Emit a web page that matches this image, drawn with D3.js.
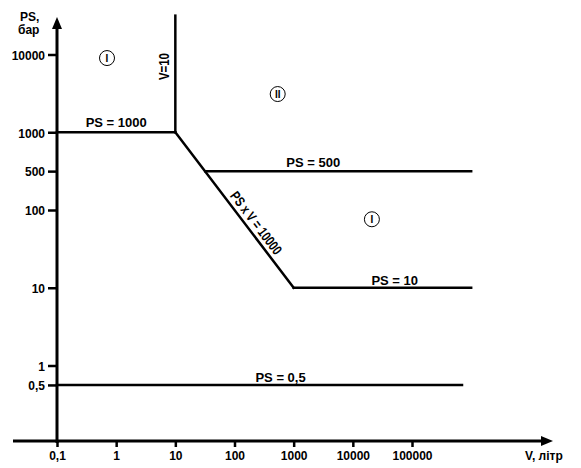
<!DOCTYPE html>
<html>
<head>
<meta charset="utf-8">
<script src="https://cdn.jsdelivr.net/npm/d3@7/dist/d3.min.js"></script>
<style>
  html, body { margin: 0; padding: 0; background: #fff; }
  svg { display: block; }
  text { font-family: "Liberation Sans", Arial, sans-serif; font-weight: bold; fill: #000; }
</style>
</head>
<body>
<svg id="chart" width="581" height="468"></svg>
<script>
// ---------- data ----------
const vTicks = [0.1, 1, 10, 100, 1000, 10000, 100000];
const vTickLabels = ["0,1", "1", "10", "100", "1000", "10000", "100000"];
const psTicks = [0.5, 1, 10, 100, 500, 1000, 10000];
const psTickLabels = ["0,5", "1", "10", "100", "500", "1000", "10000"];
// schematic vertical placement of each PS tick (in decades above 1), as drawn
const psTickLevels = [-0.25, 0, 1, 2, 2.5, 3, 4];

// boundary segments: [V, PS] end points
const boundaryLines = [
  [[0.1, 1000], [10, 1000]],        // PS = 1000
  [[10, 1000], [10, 31600]],        // V = 10
  [[10, 1000], [1000, 10]],         // PS x V = 10000
  [[32, 500], [1e6, 500]],          // PS = 500
  [[1000, 10], [1e6, 10]],          // PS = 10
  [[0.1, 0.5], [7e5, 0.5]]          // PS = 0,5
];
const lineLabels = ["PS = 1000", "PS = 500", "PS = 10", "PS = 0,5"];
const lineLabelV = [1.0, 2140, 51000, 600];
const lineLabelPS = [1000, 500, 10, 0.5];
const regionLabels = ["I", "II", "I"];
const regionV = [0.7, 537, 21000];
const regionPS = [9000, 3100, 76];

// ---------- scales ----------
const svg = d3.select("#chart");
const x = d3.scaleLog().domain([0.1, 100000]).range([57, 412]);
const yLevel = d3.scaleLinear().domain(psTicks.map(Math.log10)).range(psTickLevels);
const yPix = d3.scaleLinear().domain([0, 4]).range([365.5, 54.5]);
const y = v => yPix(yLevel(Math.log10(v)));

const x0 = x(0.1), yAxisY = 441;

// ---------- axes ----------
svg.append("line").attr("x1", x0 - 44).attr("x2", 546).attr("y1", yAxisY).attr("y2", yAxisY)
  .attr("stroke", "#000").attr("stroke-width", 3);
svg.append("path").attr("d", `M553,${yAxisY} L541,${yAxisY - 5} L541,${yAxisY + 5} Z`).attr("fill", "#000");
svg.append("line").attr("x1", x0).attr("x2", x0).attr("y1", yAxisY + 2).attr("y2", 24)
  .attr("stroke", "#000").attr("stroke-width", 3);
svg.append("path").attr("d", `M${x0},17 L${x0 - 5},29 L${x0 + 5},29 Z`).attr("fill", "#000");

const gx = svg.append("g").attr("transform", `translate(0,${yAxisY})`)
  .call(d3.axisBottom(x).tickValues(vTicks).tickFormat((d, i) => vTickLabels[i]).tickSize(6).tickPadding(4));
gx.select(".domain").remove();
gx.selectAll(".tick line").attr("stroke", "#000").attr("stroke-width", 2.5);
gx.selectAll(".tick text").attr("font-size", 12).attr("font-family", null).attr("fill", "#000");

const gy = svg.append("g").attr("transform", `translate(${x0},0)`)
  .call(d3.axisLeft(yPix).tickValues(psTickLevels).tickFormat((d, i) => psTickLabels[i]).tickSize(9).tickPadding(3));
gy.select(".domain").remove();
gy.selectAll(".tick line").attr("stroke", "#000").attr("stroke-width", 2.5);
gy.selectAll(".tick text").attr("font-size", 12).attr("font-family", null).attr("fill", "#000").attr("dy", "0.4em");

// axis titles
svg.append("text").attr("x", 20).attr("y", 21).attr("font-size", 12).text("PS,");
svg.append("text").attr("x", 18).attr("y", 34).attr("font-size", 12).text("бар");
svg.append("text").attr("x", 525).attr("y", 460).attr("font-size", 12).text("V, літр");

// ---------- boundary lines ----------
svg.append("g").selectAll("line").data(boundaryLines).join("line")
  .attr("x1", d => x(d[0][0])).attr("y1", d => y(d[0][1]))
  .attr("x2", d => x(d[1][0])).attr("y2", d => y(d[1][1]))
  .attr("stroke", "#000").attr("stroke-width", 2.5).attr("stroke-linecap", "square");

// horizontal line labels
const labelOffsets = [-5, -4, -2.5, -2.5];
svg.append("g").selectAll("text").data(lineLabels).join("text")
  .attr("x", (d, i) => x(lineLabelV[i])).attr("y", (d, i) => y(lineLabelPS[i]) + labelOffsets[i])
  .attr("text-anchor", "middle").attr("font-size", 13).text(d => d);

// V = 10 label (vertical, condensed)
svg.append("text").attr("font-size", 14)
  .attr("transform", `translate(${x(10) - 6},${y(7000)}) rotate(-90)`)
  .attr("text-anchor", "middle")
  .attr("textLength", 27).attr("lengthAdjust", "spacingAndGlyphs")
  .text("V=10");

// diagonal label (condensed, along the line)
const ax = x(10), ay = y(1000), bx = x(1000), by = y(10);
const ang = Math.atan2(by - ay, bx - ax) * 180 / Math.PI;
const mx = ax + (bx - ax) * 0.62, my = ay + (by - ay) * 0.62;
svg.append("text").attr("font-size", 14)
  .attr("transform", `translate(${mx},${my}) rotate(${ang})`)
  .attr("text-anchor", "middle").attr("dy", -4.5)
  .attr("textLength", 75).attr("lengthAdjust", "spacingAndGlyphs")
  .text("PS x V = 10000");

// region markers
const rg = svg.append("g").selectAll("g").data(regionLabels).join("g")
  .attr("transform", (d, i) => `translate(${x(regionV[i])},${y(regionPS[i])})`);
rg.append("circle").attr("r", 7.5).attr("fill", "none").attr("stroke", "#000").attr("stroke-width", 1);
rg.append("text").attr("text-anchor", "middle").attr("dy", "0.36em").attr("font-size", 10)
  .attr("font-weight", "normal")
  .text(d => d);
</script>
</body>
</html>
